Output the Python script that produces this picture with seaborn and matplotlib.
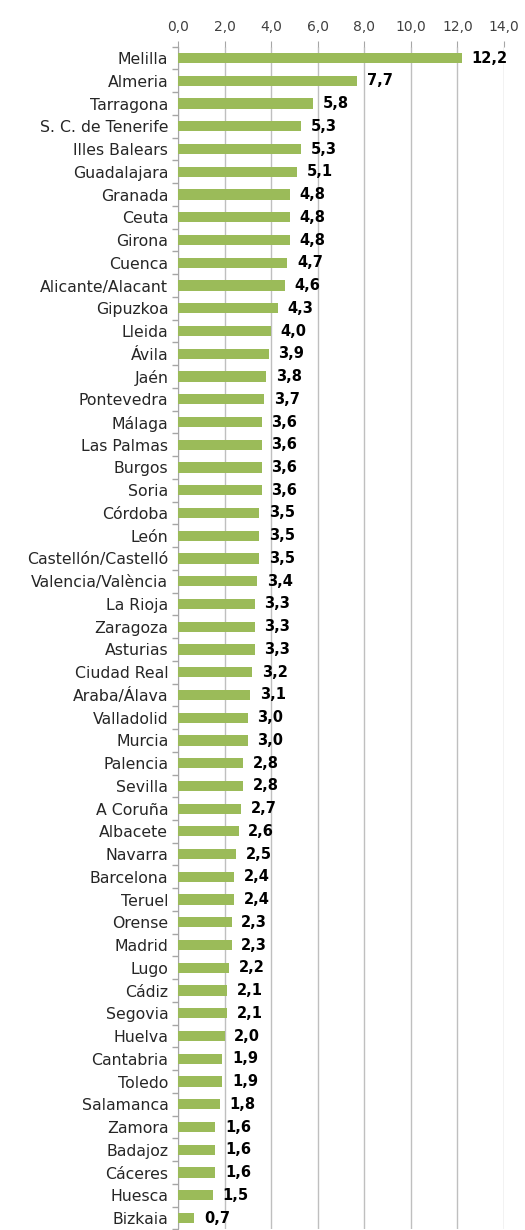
import numpy as np
import pandas as pd
import seaborn as sns
import matplotlib.pyplot as plt

provinces = [
    "Melilla", "Almeria", "Tarragona", "S. C. de Tenerife", "Illes Balears",
    "Guadalajara", "Granada", "Ceuta", "Girona", "Cuenca", "Alicante/Alacant",
    "Gipuzkoa", "Lleida", "Ávila", "Jaén", "Pontevedra", "Málaga", "Las Palmas",
    "Burgos", "Soria", "Córdoba", "León", "Castellón/Castelló",
    "Valencia/València", "La Rioja", "Zaragoza", "Asturias", "Ciudad Real",
    "Araba/Álava", "Valladolid", "Murcia", "Palencia", "Sevilla", "A Coruña",
    "Albacete", "Navarra", "Barcelona", "Teruel", "Orense", "Madrid", "Lugo",
    "Cádiz", "Segovia", "Huelva", "Cantabria", "Toledo", "Salamanca", "Zamora",
    "Badajoz", "Cáceres", "Huesca", "Bizkaia",
]
values = [
    12.2, 7.7, 5.8, 5.3, 5.3, 5.1, 4.8, 4.8, 4.8, 4.7, 4.6, 4.3, 4.0, 3.9,
    3.8, 3.7, 3.6, 3.6, 3.6, 3.6, 3.5, 3.5, 3.5, 3.4, 3.3, 3.3, 3.3, 3.2,
    3.1, 3.0, 3.0, 2.8, 2.8, 2.7, 2.6, 2.5, 2.4, 2.4, 2.3, 2.3, 2.2, 2.1,
    2.1, 2.0, 1.9, 1.9, 1.8, 1.6, 1.6, 1.6, 1.5, 0.7,
]
x_ticks = [0, 2, 4, 6, 8, 10, 12, 14]

df = pd.DataFrame({"province": provinces, "value": values})

sns.set_style("white")
plt.rcParams["font.family"] = ["DejaVu Sans"]

fig = plt.figure(figsize=(5.25, 12.3), dpi=100)
ax = fig.add_axes([0.339, 0.0005, 0.621, 0.9615])

sns.barplot(data=df, x="value", y="province", color="#9BBB59",
            saturation=1, width=0.45, linewidth=0, ax=ax, zorder=3)

ax.set_xlim(0, 14)
ax.set_ylim(len(provinces) - 0.5, -0.5)
ax.xaxis.tick_top()
ax.set_xticks(x_ticks)
ax.set_xticklabels([f"{t:.1f}".replace(".", ",") for t in x_ticks],
                   fontsize=10, color="#404040")
ax.tick_params(axis="x", top=True, bottom=False, length=4,
               color="#A6A6A6", pad=5)
ax.set_xlabel("")
ax.set_ylabel("")
ax.grid(axis="x", color="#BFBFBF", linewidth=1, zorder=0)

# category ticks sit between bars
ax.set_yticks(np.arange(len(provinces)))
ax.set_yticklabels(provinces, fontsize=11.3, color="#262626")
ax.set_yticks(np.arange(len(provinces) + 1) - 0.5, minor=True)
ax.tick_params(axis="y", which="major", left=False, length=0, pad=7)
ax.tick_params(axis="y", which="minor", left=True, length=4,
               width=1, color="#A6A6A6")

for s in ["top", "right", "bottom"]:
    ax.spines[s].set_visible(False)
ax.spines["left"].set_color("#A6A6A6")

for i, v in enumerate(values):
    ax.annotate(f"{v:.1f}".replace(".", ","), (v, i), xytext=(7, 0),
                textcoords="offset points", va="center", ha="left",
                fontsize=10.5, fontweight="bold", color="black")

fig.savefig("out.png", dpi=100)
